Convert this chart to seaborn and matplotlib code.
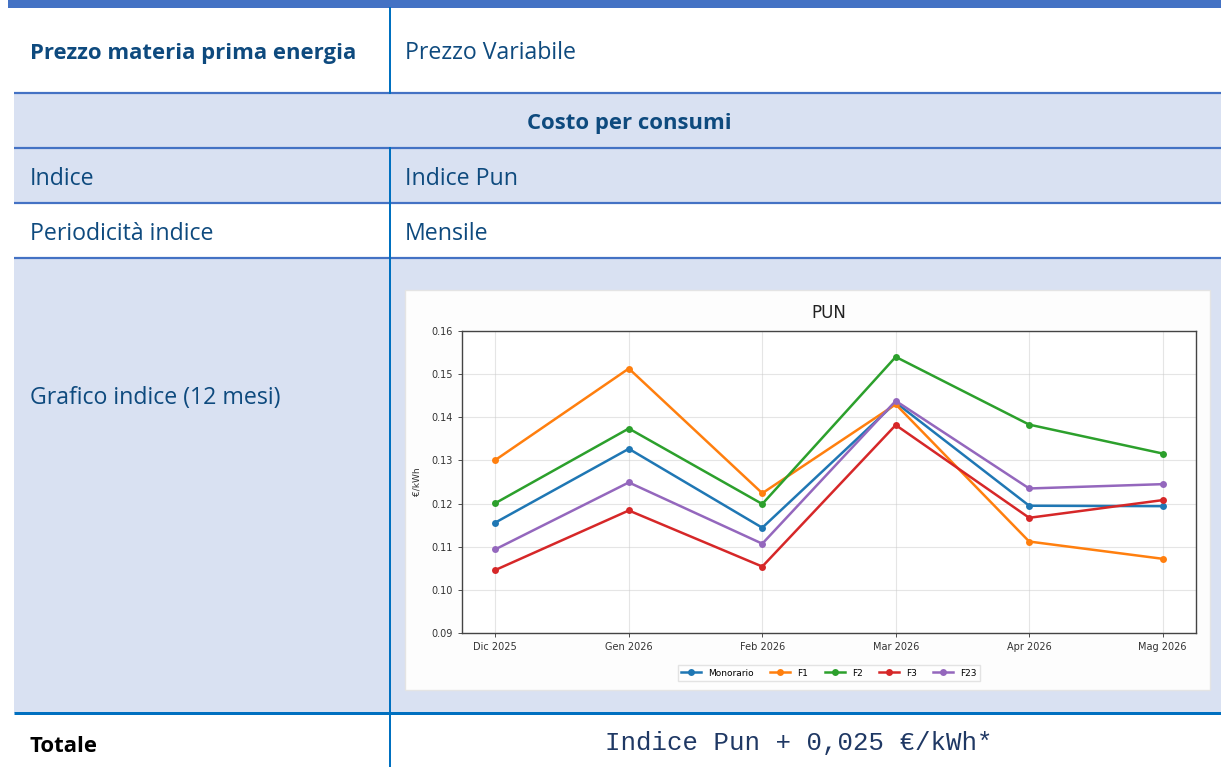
import matplotlib
matplotlib.use("Agg")
import matplotlib.pyplot as plt
from matplotlib.patches import Rectangle
import seaborn as sns
import pandas as pd

# chart data (EUR/kWh)
months = ["Dic 2025", "Gen 2026", "Feb 2026", "Mar 2026", "Apr 2026", "Mag 2026"]
monorario = [0.1156, 0.1327, 0.1144, 0.1434, 0.1195, 0.1194]
f1 = [0.1301, 0.1513, 0.1224, 0.1430, 0.1112, 0.1072]
f2 = [0.1201, 0.1374, 0.1199, 0.1540, 0.1383, 0.1316]
f3 = [0.1046, 0.1184, 0.1054, 0.1382, 0.1167, 0.1208]
f23 = [0.1094, 0.1249, 0.1107, 0.1438, 0.1235, 0.1245]
series_names = ["Monorario", "F1", "F2", "F3", "F23"]
y_ticks = [0.09, 0.10, 0.11, 0.12, 0.13, 0.14, 0.15, 0.16]

# table texts
left_labels = ["Prezzo materia prima energia", "Indice", "Periodicità indice",
               "Grafico indice (12 mesi)", "Totale"]
right_values = ["Prezzo Variabile", "Indice Pun", "Mensile"]
section_title = "Costo per consumi"
total_formula = "Indice Pun + 0,025 €/kWh*"

df = pd.DataFrame({
    "Mese": months * 5,
    "Valore": monorario + f1 + f2 + f3 + f23,
    "Serie": [s for s in series_names for _ in months],
})

W, H = 1221, 767
fig = plt.figure(figsize=(W / 100, H / 100), dpi=100)
fig.patch.set_facecolor("white")

# ---- table drawn on a full-figure axes in pixel coordinates
bg = fig.add_axes([0, 0, 1, 1])
bg.set_xlim(0, W)
bg.set_ylim(H, 0)
bg.axis("off")

band = "#4472C4"
lav = "#D9E1F2"
div = "#0070C0"
txt = "#0E4A7E"
px = 72 / 100  # pixel -> point

bg.add_patch(Rectangle((8, 0), W - 8, 8, color=band, lw=0))
bg.add_patch(Rectangle((14, 93), W - 14, 110, color=lav, lw=0))
bg.add_patch(Rectangle((14, 258), W - 14, 455, color=lav, lw=0))
for yy in [93, 148, 203, 258]:
    bg.plot([14, W], [yy, yy], color=band, lw=2.2 * px, solid_capstyle="butt")
bg.plot([14, W], [713, 713], color=div, lw=3 * px, solid_capstyle="butt")
bg.plot([390, 390], [8, 93], color=div, lw=2 * px)
bg.plot([390, 390], [148, H], color=div, lw=2 * px)

font = "Open Sans"
fs = 16.7   # regular cells
fsb = 15.9  # bold cells
bg.text(30, 53, left_labels[0], color=txt, fontsize=fsb, fontweight="bold",
        family=font, va="center")
bg.text(405, 53, right_values[0], color=txt, fontsize=fs, family=font, va="center")
bg.text(629, 123, section_title, color=txt, fontsize=fsb, fontweight="bold",
        family=font, va="center", ha="center")
bg.text(30, 179, left_labels[1], color=txt, fontsize=fs, family=font, va="center")
bg.text(405, 179, right_values[1], color=txt, fontsize=fs, family=font, va="center")
bg.text(30, 234, left_labels[2], color=txt, fontsize=fs, family=font, va="center")
bg.text(405, 234, right_values[2], color=txt, fontsize=fs, family=font, va="center")
bg.text(30, 398, left_labels[3], color=txt, fontsize=fs, family=font, va="center")
bg.text(30, 746, left_labels[4], color="black", fontsize=fsb, fontweight="bold",
        family=font, va="center")
bg.text(799, 743, total_formula, color="#1F3864", fontsize=18.5,
        family="Liberation Mono", va="center", ha="center")

# white panel holding the chart
bg.add_patch(Rectangle((405, 290), 805, 400, facecolor="#FDFDFD",
                       edgecolor="#E4E4E4", lw=1))

# ---- the PUN chart
ax = fig.add_axes([462 / W, (H - 633) / H, (1196 - 462) / W, (633 - 331) / H])
ax.set_facecolor("white")
sns.lineplot(data=df, x="Mese", y="Valore", hue="Serie", hue_order=series_names,
             palette=sns.color_palette("tab10", 5), marker="o", markersize=5,
             markeredgewidth=0, linewidth=1.8, ax=ax)
ax.set_xlim(-0.25, 5.25)
ax.set_ylim(0.09, 0.16)
ax.set_yticks(y_ticks)
ax.set_yticklabels([f"{v:.2f}" for v in y_ticks])
ax.grid(True, color="#cccccc", alpha=0.5, lw=0.8)
ax.tick_params(labelsize=7, colors="#333333", length=3, width=0.6)
for s in ax.spines.values():
    s.set_color("#444444")
    s.set_linewidth(1)
ax.set_title("PUN", fontsize=12, color="#222222", pad=9)
ax.set_xlabel("")
ax.set_ylabel("€/kWh", fontsize=6.5, color="#333333", labelpad=7)
ax.legend(loc="upper center", bbox_to_anchor=(0.5, -0.106), ncol=5, fontsize=6.5,
          frameon=True, edgecolor="#dddddd", borderaxespad=0, handlelength=2.2,
          columnspacing=1.8, fancybox=False)

fig.savefig("out.png", dpi=100)
